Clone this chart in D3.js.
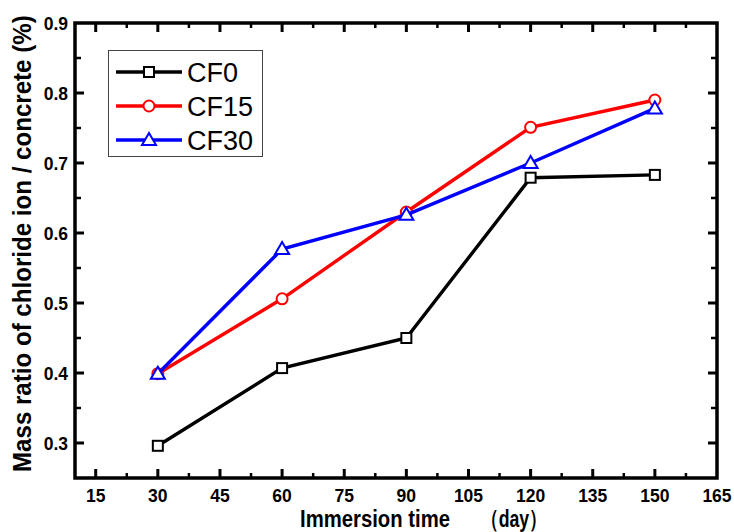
<!DOCTYPE html>
<html>
<head>
<meta charset="utf-8">
<script src="https://cdn.jsdelivr.net/npm/d3@7"></script>
<style>
  body { margin: 0; background: #fff; }
  svg { display: block; font-family: "Liberation Sans", Arial, sans-serif; }
</style>
</head>
<body>
<svg id="chart" width="734" height="532"></svg>
<script>

// immersion time (day)
var days = [ 30, 60, 90, 120, 150 ];

// mass ratio of chloride ion / concrete (%)
var cf0  = [ 0.296, 0.407, 0.450, 0.679, 0.683 ];
var cf15 = [ 0.399, 0.506, 0.630, 0.751, 0.790 ];
var cf30 = [ 0.399, 0.577, 0.626, 0.700, 0.778 ];

var seriesNames = [ 'CF0', 'CF15', 'CF30' ];
var seriesColors = [ '#000000', '#ff0000', '#0000ff' ];
var seriesShapes = [ 'square', 'circle', 'triangle' ];

var xTicks = [ 15, 30, 45, 60, 75, 90, 105, 120, 135, 150, 165 ];
var yTicks = [ 0.3, 0.4, 0.5, 0.6, 0.7, 0.8, 0.9 ];
var xMinor = [ 22.5, 37.5, 52.5, 67.5, 82.5, 97.5, 112.5, 127.5, 142.5, 157.5 ];
var yMinor = [ 0.35, 0.45, 0.55, 0.65, 0.75, 0.85 ];

var margin = { left: 75, top: 23, right: 17, bottom: 54 };
var width = 734, height = 532;

var svg = d3.select('#chart');

var x = d3.scaleLinear()
    .domain([ 10, 165 ])
    .range([ margin.left, width - margin.right ]);

var y = d3.scaleLinear()
    .domain([ 0.25, 0.9 ])
    .range([ height - margin.bottom, margin.top ]);

var x0 = x.range()[0], x1 = x.range()[1];
var y0 = y.range()[0], y1 = y.range()[1];

var frame = svg.append('g').attr('stroke', '#000');

// ticks point inward on all four sides
function xTickLines ( vals, len, w ) {

    vals.forEach( function ( v ) {
        frame.append('line').attr('x1', x(v)).attr('x2', x(v))
            .attr('y1', y0).attr('y2', y0 - len).attr('stroke-width', w);
        frame.append('line').attr('x1', x(v)).attr('x2', x(v))
            .attr('y1', y1).attr('y2', y1 + len).attr('stroke-width', w);
    });

}

function yTickLines ( vals, len, w ) {

    vals.forEach( function ( v ) {
        frame.append('line').attr('y1', y(v)).attr('y2', y(v))
            .attr('x1', x0).attr('x2', x0 + len).attr('stroke-width', w);
        frame.append('line').attr('y1', y(v)).attr('y2', y(v))
            .attr('x1', x1).attr('x2', x1 - len).attr('stroke-width', w);
    });

}

xTickLines( xTicks.filter( function ( v ) { return v < 165; } ), 9, 3 );
xTickLines( xMinor, 5, 2.5 );
yTickLines( yTicks.filter( function ( v ) { return v < 0.9; } ), 9, 3 );
yTickLines( yMinor, 6, 2.5 );

frame.append('rect')
    .attr('x', x0).attr('y', y1)
    .attr('width', x1 - x0).attr('height', y0 - y1)
    .attr('fill', 'none')
    .attr('stroke-width', 3.5);

// tick labels
svg.append('g').selectAll('text')
    .data( xTicks ).enter().append('text')
    .attr('x', function ( d ) { return x( d ); })
    .attr('y', 502)
    .attr('text-anchor', 'middle')
    .attr('font-size', 17.5)
    .attr('font-weight', 'bold')
    .text( function ( d ) { return d; });

svg.append('g').selectAll('text')
    .data( yTicks ).enter().append('text')
    .attr('x', 68)
    .attr('y', function ( d ) { return y( d ) + 6.5; })
    .attr('text-anchor', 'end')
    .attr('font-size', 17.5)
    .attr('font-weight', 'bold')
    .text( function ( d ) { return d.toFixed( 1 ); });

// axis titles: the original glyphs are narrow and tall, so squeeze them
// horizontally to the measured length
function squeezedText ( str, transform, size, targetLen ) {

    var g = svg.append('g').attr('transform', transform);
    var t = g.append('text')
        .attr('font-size', size)
        .attr('font-weight', 'bold')
        .text( str );
    var len = t.node().getComputedTextLength();
    t.attr('transform', 'scale(' + ( targetLen / len ) + ',1)');

}

squeezedText( 'Immersion time', 'translate(300,527)', 24, 150 );
squeezedText( '\uff08day\uff09', 'translate(481,527)', 24, 66 );
squeezedText( 'Mass ratio of chloride ion / concrete (%)', 'translate(31,472) rotate(-90)', 25, 457 );

// series
var series = [ cf0, cf15, cf30 ];

var line = d3.line()
    .x( function ( d, i ) { return x( days[ i ] ); })
    .y( function ( d ) { return y( d ); });

function drawMarker ( g, shape, cx, cy, color ) {

    if ( shape === 'square' ) {
        g.append('rect').attr('x', cx - 5).attr('y', cy - 5)
            .attr('width', 10).attr('height', 10)
            .attr('fill', '#fff').attr('stroke', color).attr('stroke-width', 2);
    } else if ( shape === 'circle' ) {
        g.append('circle').attr('cx', cx).attr('cy', cy).attr('r', 5.5)
            .attr('fill', '#fff').attr('stroke', color).attr('stroke-width', 2);
    } else {
        g.append('path')
            .attr('d', 'M' + cx + ',' + ( cy - 7 ) + 'L' + ( cx + 7 ) + ',' + ( cy + 5 ) + 'L' + ( cx - 7 ) + ',' + ( cy + 5 ) + 'Z')
            .attr('fill', '#fff').attr('stroke', color).attr('stroke-width', 2);
    }

}

series.forEach( function ( s, k ) {

    var g = svg.append('g');

    g.append('path')
        .attr('d', line( s ))
        .attr('fill', 'none')
        .attr('stroke', seriesColors[ k ])
        .attr('stroke-width', 3.4);

    s.forEach( function ( v, i ) {
        drawMarker( g, seriesShapes[ k ], x( days[ i ] ), y( v ), seriesColors[ k ] );
    });

});

// legend
var legend = svg.append('g');

legend.append('rect')
    .attr('x', 108.5).attr('y', 50.5)
    .attr('width', 154).attr('height', 106)
    .attr('fill', '#fff')
    .attr('stroke', '#444')
    .attr('stroke-width', 1);

seriesNames.forEach( function ( name, k ) {

    var ly = 72 + k * 34;

    legend.append('line')
        .attr('x1', 116).attr('x2', 182)
        .attr('y1', ly).attr('y2', ly)
        .attr('stroke', seriesColors[ k ])
        .attr('stroke-width', 3.6);

    drawMarker( legend, seriesShapes[ k ], 149, ly, seriesColors[ k ] );

    legend.append('text')
        .attr('x', 187)
        .attr('y', ly + 10)
        .attr('font-size', 27)
        .text( name );

});

</script>
</body>
</html>
